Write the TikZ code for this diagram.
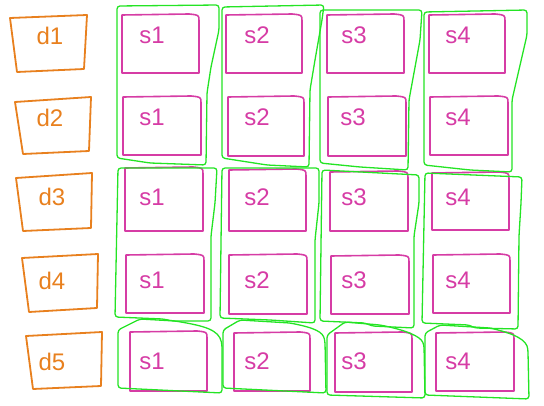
\documentclass[tikz,border=0pt]{standalone}
\usepackage{fontspec}
\setmainfont{Liberation Sans}
\definecolor{diskorange}{RGB}{232,128,30}
\definecolor{slotpink}{RGB}{214,60,165}
\definecolor{groupgreen}{RGB}{36,228,36}
\tikzset{
  diskbox/.style={draw=diskorange,line width=1.8pt,line join=round},
  slotbox/.style={draw=slotpink,line width=1.6pt,line join=round},
  groupbox/.style={draw=groupgreen,line width=1.3pt,line join=round,rounded corners=3pt},
  disklabel/.style={text=diskorange,font=\fontsize{24}{24}\selectfont,inner sep=0pt},
  slotlabel/.style={text=slotpink,font=\fontsize{24}{24}\selectfont,inner sep=0pt},
}

\begin{document}
\begin{tikzpicture}[x=1pt,y=-1pt]
\useasboundingbox (0,0) rectangle (544,406);
% disks
\draw[diskbox] (10,18)--(87,15)--(84,69)--(17,72)--cycle;
\draw[diskbox] (15,102)--(91,97)--(89,151)--(23,154)--cycle;
\draw[diskbox] (16,178)--(92,173)--(91,228)--(23,231)--cycle;
\draw[diskbox] (22,258)--(98,254)--(97,308)--(29,312)--cycle;
\draw[diskbox] (26,336)--(102,332)--(101,386)--(33,389)--cycle;
\node[disklabel] (d1) at (50,36) {d1};
\node[disklabel] (d2) at (50,118) {d2};
\node[disklabel] (d3) at (52,197) {d3};
\node[disklabel] (d4) at (52,281) {d4};
\node[disklabel] (d5) at (52,362) {d5};
% slots: left/top/right/bottom, label position
\foreach \l/\t/\r/\b/\lx/\ly/\nm/\txt in {
  122/15/199/73/152/35/s11/s1, 226/15/302/73/257/35/s12/s2,
  327/15/404/73/354/35/s13/s3, 429/15/505/73/458/35/s14/s4,
  123/97/201/155/152/117/s21/s1, 228/97/304/156/257/117/s22/s2,
  328/97/406/156/353/117/s23/s3, 430/97/508/155/458/117/s24/s4,
  125/168/203/231/152/197/s31/s1, 229/170/306/231/257/197/s32/s2,
  330/172/408/231/354/197/s33/s3, 432/173/509/230/458/197/s34/s4,
  126/255/204/313/152/280/s41/s1, 229/255/307/314/257/280/s42/s2,
  331/256/409/314/354/280/s43/s3, 433/255/510/313/458/280/s44/s4,
  130/332/207/391/152/361/s51/s1, 234/333/310/391/257/361/s52/s2,
  335/333/412/392/354/361/s53/s3, 436/333/514/391/458/361/s54/s4}{
  \draw[slotbox] (\l,\b)--(\l,\t)--(\r-10,\t-1) .. controls (\r,\t) .. (\r,\t+6)--(\r,\b)--cycle;
  \node[slotlabel] (\nm) at (\lx,\ly) {\txt};
}
% groups, rows 1-2
\draw[groupbox] (117,158)--(117,6)--(219,5)--(219,30)--(211,67)--(207,93)--(206,165)--(150,163)--cycle;
\draw[groupbox] (222,158)--(222,7)--(324,5)--(322,20)--(315,60)--(310,90)--(309,167)--(267,165)--cycle;
\draw[groupbox] (320,163)--(320,10)--(422,10)--(420,40)--(409,100)--(408,170)--(360,167)--cycle;
\draw[groupbox] (424,165)--(424,12)--(527,10)--(527,35)--(512,100)--(512,172)--(470,170)--cycle;
% groups, rows 3-4
\draw[groupbox] (115,317)--(118,168)--(217,168)--(215,203)--(211,236)--(211,321)--(173,321)--(163,319)--cycle;
\draw[groupbox] (220,318)--(222,168)--(319,168)--(319,203)--(315,240)--(315,323)--(270,320)--cycle;
\draw[groupbox] (320,321)--(322,170)--(419,175)--(419,203)--(414,236)--(414,328)--(372,326)--(365,323)--cycle;
\draw[groupbox] (422,323)--(425,173)--(522,177)--(521,203)--(519,236)--(518,329)--(475,328)--(469,325)--cycle;
% groups, row 5
\draw[groupbox] (118,330)--(118,388)--(222,393)--(222,345) .. controls (219,330) and (205,326) .. (175,321)--(140,319)--cycle;
\draw[groupbox] (223,330)--(223,388)--(326,393)--(325,342) .. controls (323,332) and (315,328) .. (290,323)--(240,320)--cycle;
\draw[groupbox] (327,335)--(327,395)--(425,398)--(424,345) .. controls (420,336) and (405,330) .. (380,325)--(345,322)--cycle;
\draw[groupbox] (425,333)--(425,395)--(529,399)--(528,352) .. controls (527,340) and (515,334) .. (490,328)--(440,325)--cycle;
\end{tikzpicture}
\end{document}
